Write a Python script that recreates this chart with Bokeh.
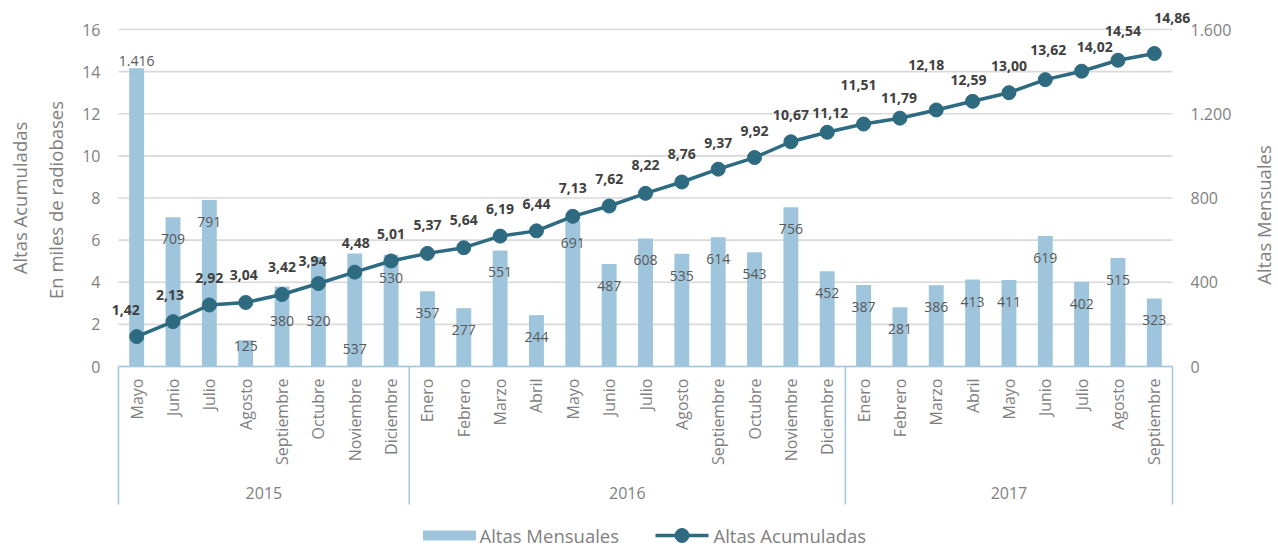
import math
from bokeh.plotting import figure
from bokeh.models import Range1d, ColumnDataSource
from bokeh.embed import file_html
from bokeh.resources import INLINE
from bokeh.core.properties import value

# ---------------- data ----------------
years = ["2015", "2016", "2017"]
months_2015 = ["Mayo", "Junio", "Julio", "Agosto", "Septiembre", "Octubre", "Noviembre", "Diciembre"]
months_2016 = ["Enero", "Febrero", "Marzo", "Abril", "Mayo", "Junio", "Julio", "Agosto",
               "Septiembre", "Octubre", "Noviembre", "Diciembre"]
months_2017 = ["Enero", "Febrero", "Marzo", "Abril", "Mayo", "Junio", "Julio", "Agosto", "Septiembre"]

altas_mensuales = [1416, 709, 791, 125, 380, 520, 537, 530,
                   357, 277, 551, 244, 691, 487, 608, 535, 614, 543, 756, 452,
                   387, 281, 386, 413, 411, 619, 402, 515, 323]
altas_acumuladas = [1.42, 2.13, 2.92, 3.04, 3.42, 3.94, 4.48, 5.01,
                    5.37, 5.64, 6.19, 6.44, 7.13, 7.62, 8.22, 8.76, 9.37, 9.92, 10.67, 11.12,
                    11.51, 11.79, 12.18, 12.59, 13.00, 13.62, 14.02, 14.54, 14.86]

left_ticks = [0, 2, 4, 6, 8, 10, 12, 14, 16]
left_tick_labels = ["0", "2", "4", "6", "8", "10", "12", "14", "16"]
right_ticks = [0, 400, 800, 1200, 1600]
right_tick_labels = ["0", "400", "800", "1.200", "1.600"]

left_title_1 = "Altas Acumuladas"
left_title_2 = "En miles de radiobases"
right_title = "Altas Mensuales"
legend_labels = ["Altas Mensuales", "Altas Acumuladas"]

# ---------------- label placement (pixel offsets, style only) ----------------
bar_label_dy = [-7, 22, 22, 6, 35, 64, 96, 23,
                22, 22, 22, 22, 22, 22, 22, 22, 22, 22, 22, 22,
                22, 22, 22, 22, 22, 22, 22, 22, 22]
line_label_dx = [-11, -3, 0, -2, 0, -6, 1, 0,
                 0, 0, 0, 0, 0, 0, 0, 0, 0, 0, 0, 3,
                 -5, -1, -10, -4, 0, 3, 13, 5, 18]
line_label_dy = [-27, -27, -27, -27, -27, -23, -29, -27,
                 -28, -28, -27, -27, -28, -27, -28, -28, -26, -27, -27, -19,
                 -39, -20, -45, -21, -27, -30, -24, -29, -36]

# ---------------- layout (page pixels) ----------------
W, H = 1278, 548
PLOT_L, PLOT_R = 118, 1172
Y0, YTOP = 366, 29

FONT = "Open Sans"
BAR_COLOR = "#9FC5DC"
LINE_COLOR = "#2E6A80"
AXIS_BOX_COLOR = "#A3C8DF"
GRID_COLOR = "#D9D9D9"
TEXT_GRAY = "#7F7F7F"

months = months_2015 + months_2016 + months_2017
group_sizes = [len(months_2015), len(months_2016), len(months_2017)]
n = len(months)
xs = list(range(n))

left_max = left_ticks[-1]
unit_x = (PLOT_R - PLOT_L) / n
unit_y = (Y0 - YTOP) / left_max
right_scale = right_ticks[-1] / left_max


def px2x(px):
    return -0.5 + (px - PLOT_L) / unit_x


def px2y(py):
    return (Y0 - py) / unit_y


def dpx(d):  # vertical pixel distance -> left-axis units
    return d / unit_y


y_start, y_end = px2y(H), px2y(0)

p = figure(width=W, height=H, output_backend="svg", toolbar_location=None,
           x_range=Range1d(px2x(0), px2x(W)), y_range=Range1d(y_start, y_end),
           x_axis_location=None, y_axis_location=None,
           min_border=0, min_border_left=0, min_border_right=0,
           min_border_top=0, min_border_bottom=0)
p.extra_y_ranges = {"bars": Range1d(y_start * right_scale, y_end * right_scale)}
p.outline_line_color = None
p.xgrid.visible = False
p.ygrid.visible = False
p.background_fill_color = "white"
p.border_fill_color = "white"

txt = dict(text_font=value(FONT), text_color=TEXT_GRAY)

# gridlines (left value axis ticks)
p.segment(x0=[-0.5] * len(left_ticks), x1=[n - 0.5] * len(left_ticks),
          y0=left_ticks, y1=left_ticks, line_color=GRID_COLOR, line_width=1.6)

# value-axis tick labels
p.text(x=[px2x(100)] * len(left_ticks), y=left_ticks, text=left_tick_labels,
       text_align="right", text_baseline="middle", text_font_size="16px", **txt)
p.text(x=[px2x(1190)] * len(right_ticks), y=right_ticks, text=right_tick_labels,
       y_range_name="bars", text_align="left", text_baseline="middle",
       text_font_size="16px", **txt)

# axis titles (centred on the value axis)
mid = (left_ticks[0] + left_ticks[-1]) / 2
p.text(x=[px2x(19), px2x(55)], y=[mid, mid - dpx(2)], text=[left_title_1, left_title_2],
       angle=math.pi / 2, text_align="center", text_baseline="middle",
       text_font_size="18.5px", **txt)
p.text(x=[px2x(1263)], y=[mid - dpx(17)], text=[right_title], angle=math.pi / 2,
       text_align="center", text_baseline="middle", text_font_size="18.5px", **txt)

# bars
bar_src = ColumnDataSource(dict(
    x=xs, top=altas_mensuales,
    label=[f"{v:,}".replace(",", ".") for v in altas_mensuales],
    dy=bar_label_dy))
p.vbar(x="x", top="top", bottom=0, width=0.41, source=bar_src, y_range_name="bars",
       fill_color=BAR_COLOR, line_color=None)

# category axis box
p.segment(x0=[-0.5], x1=[n - 0.5], y0=[0], y1=[0], line_color=AXIS_BOX_COLOR, line_width=1.6)
bounds = [-0.5]
acc = 0
for g in group_sizes:
    acc += g
    bounds.append(acc - 0.5)
p.segment(x0=bounds, x1=bounds, y0=[0] * len(bounds), y1=[px2y(504)] * len(bounds),
          line_color=AXIS_BOX_COLOR, line_width=1.6)

p.text(x=xs, y=[px2y(378)] * n, text=months, angle=math.pi / 2,
       text_align="right", text_baseline="middle", text_font_size="16px", **txt)
year_x = [(bounds[i] + bounds[i + 1]) / 2 for i in range(len(years))]
p.text(x=year_x, y=[px2y(492)] * len(years), text=years, text_align="center",
       text_baseline="middle", text_font_size="16px", **txt)

# line
line_src = ColumnDataSource(dict(
    x=xs, y=altas_acumuladas,
    label=[f"{v:.2f}".replace(".", ",") for v in altas_acumuladas],
    dx=line_label_dx, dy=line_label_dy))
p.line(x="x", y="y", source=line_src, line_color=LINE_COLOR, line_width=3.5)
p.scatter(x="x", y="y", source=line_src, size=14, fill_color=LINE_COLOR, line_color=LINE_COLOR)

# data labels
p.text(x="x", y="top", text="label", source=bar_src, y_range_name="bars",
       y_offset="dy", text_align="center", text_baseline="middle",
       text_font=value(FONT), text_font_size="14px", text_color="#595959")
p.text(x="x", y="y", text="label", source=line_src, x_offset="dx", y_offset="dy",
       text_align="center", text_baseline="middle", text_font=value(FONT),
       text_font_size="14px", text_font_style="bold", text_color="#404040")

# legend (drawn manually)
ly = px2y(535)
p.rect(x=[px2x(449)], y=[ly], width=53 / unit_x, height=dpx(10),
       fill_color=BAR_COLOR, line_color=None)
p.line(x=[px2x(655), px2x(708)], y=[ly, ly], line_color=LINE_COLOR, line_width=3.5)
p.scatter(x=[px2x(681.5)], y=[ly], size=14, fill_color=LINE_COLOR, line_color=LINE_COLOR)
p.text(x=[px2x(479), px2x(713)], y=[ly, ly], text=legend_labels,
       text_align="left", text_baseline="middle", text_font_size="18.5px", **txt)

open("out.html", "w").write(file_html(p, INLINE))
